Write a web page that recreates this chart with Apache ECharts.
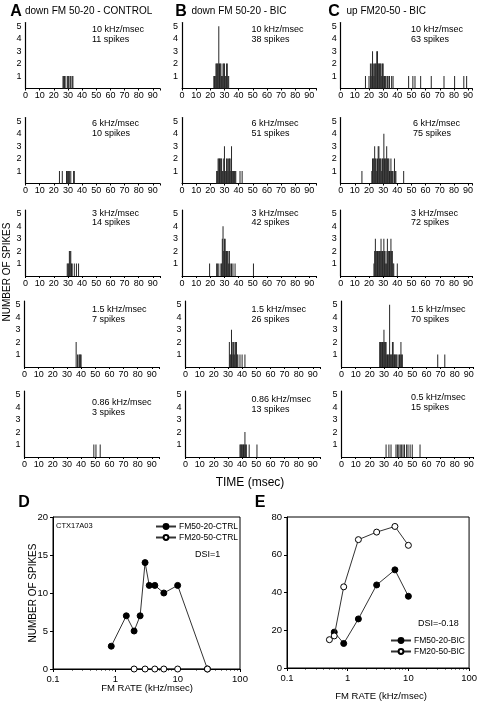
<!DOCTYPE html>
<html><head><meta charset="utf-8">
<script src="https://cdn.jsdelivr.net/npm/echarts/dist/echarts.min.js"></script>
<style>html,body{margin:0;padding:0;background:#fff}#c{width:480px;height:703px}</style>
</head><body><div id="c"></div><script>
// ---------- DATA ----------
// spike histograms: [time (msec), number of spikes]
const a1 = [[26.5,1],[27,1],[27.5,1],[28,1],[29.5,1],[30,1],[30.5,1],[31.5,1],[32,1],[33,1],[33.5,1]];
const b1 = [[22.5,1],[23,1],[23.5,1],[24,2],[24.5,2],[25,2],[25.5,2],[26,5],[26.5,2],[27,2],[27.5,2],[28,1],[28.5,1],[29,2],[29.5,2],[30,2],[30.5,1],[31,1],[31.5,2],[32,2],[32.5,1],[33,1]];
const c1 = [[17.5,1],[20,1],[21,2],[21.5,1],[22,2],[22.5,3],[23,2],[23.5,1],[24,2],[24.5,2],[25,2],[25.5,3],[26,3],[26.5,2],[27,2],[27.5,2],[28,2],[28.5,2],[29,1],[29.5,2],[30,2],[30.5,1],[31,1],[31.5,1],[32,1],[33,1],[33.5,1],[34.5,1],[36,1],[37,1],[48,1],[51,1],[52.5,1],[56.5,1],[64,1],[73,1],[80.5,1],[87,1],[89,1]];
const a2 = [[24,1],[26,1],[29,1],[29.5,1],[30,1],[30.5,1],[31,1],[32,1],[34,1],[34.5,1]];
const b2 = [[24.5,1],[25,1],[25.5,2],[26,2],[26.5,2],[27,2],[27.5,2],[28,2],[28.5,1],[29,1],[29.5,2],[30,3],[30.5,1],[31,1],[31.5,2],[32,2],[32.5,1],[33,2],[33.5,2],[34,2],[34.5,1],[35,3],[35.5,1],[36,1],[36.5,1],[37,1],[37.5,1],[38,1],[41,1],[42.5,1]];
const c2 = [[15,1],[22,1],[22.5,2],[23,2],[23.5,2],[24,3],[24.5,2],[25,2],[25.5,1],[26,2],[26.5,3],[27,3],[27.5,2],[28,2],[28.5,2],[29,1],[29.5,2],[30,2],[30.5,4],[31,2],[31.5,2],[32,2],[32.5,3],[33,2],[33.5,2],[34,2],[34.5,1],[35,1],[35.5,2],[36,1],[36.5,1],[37,1],[38,2],[38.5,1],[39,1],[44.5,1]];
const a3 = [[29.5,1],[30,1],[30.5,1],[31,2],[31.5,2],[32,2],[32.5,1],[33,1],[34.5,1],[36,1],[37.5,1]];
const b3 = [[19.5,1],[24.5,1],[25,1],[26,1],[27.5,1],[28,1],[28.5,3],[29,4],[29.5,2],[30,3],[30.5,3],[31,2],[31.5,2],[32,2],[32.5,2],[33,1],[33.5,2],[34,1],[35,1],[36,1],[37.5,1],[50.5,1]];
const c3 = [[23.5,1],[24,2],[24.5,3],[25,2],[25.5,2],[26,2],[26.5,2],[27,2],[27.5,2],[28,2],[28.5,3],[29,2],[29.5,2],[30,2],[30.5,3],[31,2],[31.5,1],[32,2],[32.5,1],[33,3],[33.5,2],[34,2],[34.5,2],[35,2],[35.5,3],[36,2],[36.5,2],[37,1],[37.5,1],[40,1]];
const a4 = [[36.5,2],[37.5,1],[38.5,1],[39,1],[39.5,1],[40,1]];
const b4 = [[31,2],[31.5,1],[32,1],[32.5,3],[33,2],[33.5,1],[34,2],[34.5,1],[35,2],[35.5,2],[36,2],[36.5,1],[37,1],[38.5,1],[40,1],[42,1]];
const c4 = [[27,2],[27.5,2],[28,2],[28.5,2],[29,2],[29.5,2],[30,3],[30.5,2],[31,2],[31.5,2],[32,1],[32.5,1],[33,1],[33.5,1],[34,5],[34.5,1],[35,1],[35.5,1],[36,2],[36.5,2],[37,1],[37.5,1],[38,1],[38.5,1],[39,1],[40,1],[41,1],[41.5,1],[42,2],[42.5,1],[43,1],[68,1],[73,1]];
const a5 = [[49,1],[50.5,1],[53.5,1]];
const b5 = [[38.5,1],[39,1],[39.5,1],[40,1],[40.5,1],[41,1],[41.5,1],[42,2],[42.5,1],[43,1],[45,1],[50.5,1]];
const c5 = [[31.5,1],[33.5,1],[35,1],[38.5,1],[39.5,1],[40.5,1],[41.5,1],[42.5,1],[43.5,1],[44.5,1],[46,1],[47,1],[48.5,1],[50,1],[55.5,1]];

const colTitles = ['down FM 50-20 - CONTROL', 'down FM 50-20 - BIC', 'up FM20-50 - BIC'];
const panelLetters = ['A', 'B', 'C', 'D', 'E'];
const ratesA = ['10 kHz/msec', '6 kHz/msec', '3 kHz/msec', '1.5 kHz/msec', '0.86 kHz/msec'];
const ratesB = ['10 kHz/msec', '6 kHz/msec', '3 kHz/msec', '1.5 kHz/msec', '0.86 kHz/msec'];
const ratesC = ['10 kHz/msec', '6 kHz/msec', '3 kHz/msec', '1.5 kHz/msec', '0.5 kHz/msec'];
const spikesA = [11, 10, 14, 7, 3];
const spikesB = [38, 51, 42, 26, 13];
const spikesC = [63, 75, 72, 70, 15];
const histTicksY = [1, 2, 3, 4, 5];

// D: control tuning curves  [FM rate (kHz/msec), number of spikes]
const ctrl5020 = [[0.86,3],[1.5,7],[2,5],[2.5,7],[3,14],[3.5,11],[4.3,11],[6,10],[10,11],[30,0]];
const ctrl2050 = [[2,0],[3,0],[4.3,0],[6,0],[10,0],[30,0]];
// E: bicuculline tuning curves
const bic5020 = [[0.6,19],[0.86,13],[1.5,26],[3,44],[6,52],[10,38]];
const bic2050 = [[0.5,15],[0.6,17],[0.86,43],[1.5,68],[3,72],[6,75],[10,65]];
const seriesNames = ['FM50-20-CTRL', 'FM20-50-CTRL', 'FM50-20-BIC', 'FM20-50-BIC'];
const dsiD = 'DSI=1', dsiE = 'DSI=-0.18', cellId = 'CTX17A03';

// ---------- LAYOUT ----------
const FONT = '"Liberation Sans", Arial, sans-serif';
const hists = [[a1,b1,c1],[a2,b2,c2],[a3,b3,c3],[a4,b4,c4],[a5,b5,c5]];
const rowBase = [88.5, 183.5, 276, 367, 457];
const colLeft = [[25.5,182,340.7],[25.5,182,340.7],[25.5,182,340.7],[24.5,185.5,341.5],[24.5,185.5,341.5]];
const colMax = [95, 95, 93];
const pxPerMs = 1.415;
const H = 66, YMAX = 5.3;
const textX = [92, 251.5, 411];
const textY = [[30,30,30],[124,124,124],[213.5,213.5,213.5],[310,310,310],[403,400,398]];

const grid = [], xAxis = [], yAxis = [], series = [], graphic = [];
const rates = [ratesA, ratesB, ratesC], spikes = [spikesA, spikesB, spikesC];
let gi = 0;
for (let r = 0; r < 5; r++) {
  for (let c = 0; c < 3; c++) {
    const left = colLeft[r][c], width = colMax[c] * pxPerMs;
    grid.push({left: left, top: rowBase[r] - H, width: width, height: H});
    xAxis.push({
      gridIndex: gi, type: 'value', min: 0, max: colMax[c], interval: 10,
      axisLine: {lineStyle: {color: '#000', width: 1}},
      axisTick: {show: true, length: 2, lineStyle: {color: '#000'}},
      axisLabel: {fontSize: 9, fontFamily: FONT, color: '#000', margin: 3,
        formatter: v => (v % 10 === 0 && v <= 90) ? String(v) : ''},
      splitLine: {show: false}
    });
    yAxis.push({
      gridIndex: gi, type: 'value', min: 0, max: YMAX, interval: 1,
      axisLine: {show: true, lineStyle: {color: '#000', width: 1.2}},
      axisTick: {show: false},
      axisLabel: {fontSize: 9, fontFamily: FONT, color: '#000', margin: 4,
        formatter: v => histTicksY.indexOf(v) >= 0 ? String(v) : ''},
      splitLine: {show: false}
    });
    series.push({
      type: 'bar', xAxisIndex: gi, yAxisIndex: gi, data: hists[r][c],
      barWidth: 0.75, itemStyle: {color: '#262626'}, silent: true
    });
    graphic.push({type: 'text', x: textX[c] + (r === 1 && c === 2 ? 2 : 0), y: textY[r][c],
      style: {text: rates[c][r], font: '9px ' + FONT, fill: '#000', verticalAlign: 'middle'}});
    graphic.push({type: 'text', x: textX[c] + (r === 1 && c === 2 ? 2 : 0), y: textY[r][c] + 9.5,
      style: {text: spikes[c][r] + ' spikes', font: '9px ' + FONT, fill: '#000', verticalAlign: 'middle'}});
    gi++;
  }
}
// column titles
const letterX = [16, 181, 334], titleX = [25, 191.5, 346.5];
for (let c = 0; c < 3; c++) {
  graphic.push({type: 'text', x: letterX[c], y: 12, style: {text: panelLetters[c], font: 'bold 16px ' + FONT, fill: '#000', align: 'center', verticalAlign: 'middle'}});
  graphic.push({type: 'text', x: titleX[c], y: 11, style: {text: colTitles[c], font: '10px ' + FONT, fill: '#000', verticalAlign: 'middle'}});
}
graphic.push({type: 'text', x: 7, y: 272, rotation: Math.PI / 2, style: {text: 'NUMBER OF SPIKES', font: '10px ' + FONT, fill: '#000', align: 'center', verticalAlign: 'middle'}});
graphic.push({type: 'text', x: 250, y: 483, style: {text: 'TIME (msec)', font: '12px ' + FONT, fill: '#000', align: 'center', verticalAlign: 'middle'}});
graphic.push({type: 'text', x: 24, y: 503, style: {text: panelLetters[3], font: 'bold 16px ' + FONT, fill: '#000', align: 'center', verticalAlign: 'middle'}});
graphic.push({type: 'text', x: 260, y: 503, style: {text: panelLetters[4], font: 'bold 16px ' + FONT, fill: '#000', align: 'center', verticalAlign: 'middle'}});
graphic.push({type: 'text', x: 33, y: 593, rotation: Math.PI / 2, style: {text: 'NUMBER OF SPIKES', font: '10px ' + FONT, fill: '#000', align: 'center', verticalAlign: 'middle'}});
graphic.push({type: 'text', x: 147, y: 688, style: {text: 'FM RATE (kHz/msec)', font: '9.5px ' + FONT, fill: '#000', align: 'center', verticalAlign: 'middle'}});
graphic.push({type: 'text', x: 381, y: 696, style: {text: 'FM RATE (kHz/msec)', font: '9.5px ' + FONT, fill: '#000', align: 'center', verticalAlign: 'middle'}});
graphic.push({type: 'text', x: 56, y: 526, style: {text: cellId, font: '7.5px ' + FONT, fill: '#000', verticalAlign: 'middle'}});
graphic.push({type: 'text', x: 195, y: 555, style: {text: dsiD, font: '9px ' + FONT, fill: '#000', verticalAlign: 'middle'}});
graphic.push({type: 'text', x: 418, y: 624, style: {text: dsiE, font: '9px ' + FONT, fill: '#000', verticalAlign: 'middle'}});

// line charts D and E
const lineGrids = [{left: 53, top: 517, width: 187, height: 152}, {left: 287, top: 517, width: 185, height: 151}];
const lineY = [{max: 20, interval: 5}, {max: 80, interval: 20}];
for (let k = 0; k < 2; k++) {
  grid.push(Object.assign({show: true, borderColor: '#000', borderWidth: 1, backgroundColor: 'transparent'}, lineGrids[k]));
  xAxis.push({
    gridIndex: gi, type: 'log', logBase: 10, min: 0.1, max: 100,
    axisLine: {lineStyle: {color: '#000'}},
    axisTick: {show: true, length: 3, lineStyle: {color: '#000'}},
    minorTick: {show: true, splitNumber: 9, length: 1.5, lineStyle: {color: '#000'}},
    axisLabel: {fontSize: 9.5, fontFamily: FONT, color: '#000', margin: 5},
    splitLine: {show: false}
  });
  yAxis.push({
    gridIndex: gi, type: 'value', min: 0, max: lineY[k].max, interval: lineY[k].interval,
    axisLine: {show: true, lineStyle: {color: '#000'}},
    axisTick: {show: true, length: 3, lineStyle: {color: '#000'}},
    axisLabel: {fontSize: 9.5, fontFamily: FONT, color: '#000', margin: 5},
    splitLine: {show: false}
  });
  gi++;
}
const lineStyleCommon = {color: '#333', width: 1};
series.push({name: seriesNames[0], type: 'line', xAxisIndex: 15, yAxisIndex: 15, data: ctrl5020,
  symbol: 'circle', symbolSize: 6, itemStyle: {color: '#000', borderColor: '#000', borderWidth: 1}, lineStyle: lineStyleCommon, z: 3});
series.push({name: seriesNames[1], type: 'line', xAxisIndex: 15, yAxisIndex: 15, data: ctrl2050,
  symbol: 'circle', symbolSize: 6, itemStyle: {color: '#fff', borderColor: '#000', borderWidth: 1}, lineStyle: lineStyleCommon, z: 4});
series.push({name: seriesNames[2], type: 'line', xAxisIndex: 16, yAxisIndex: 16, data: bic5020,
  symbol: 'circle', symbolSize: 6, itemStyle: {color: '#000', borderColor: '#000', borderWidth: 1}, lineStyle: lineStyleCommon, z: 3});
series.push({name: seriesNames[3], type: 'line', xAxisIndex: 16, yAxisIndex: 16, data: bic2050,
  symbol: 'circle', symbolSize: 6, itemStyle: {color: '#fff', borderColor: '#000', borderWidth: 1}, lineStyle: lineStyleCommon, z: 4});

const legendCommon = {orient: 'vertical', itemWidth: 20, itemHeight: 6, itemGap: 2, padding: 0,
  textStyle: {fontSize: 8.5, fontFamily: FONT, color: '#000', padding: [0, 0, 0, -2]}, selectedMode: false};
const legend = [
  Object.assign({left: 155, top: 522, data: [seriesNames[0], seriesNames[1]]}, legendCommon),
  Object.assign({left: 390, top: 636, data: [seriesNames[2], seriesNames[3]]}, legendCommon)
];

const chart = echarts.init(document.getElementById('c'), null, {renderer: 'canvas'});
chart.setOption({animation: false, backgroundColor: '#fff', grid, xAxis, yAxis, series, legend, graphic});
</script></body></html>
